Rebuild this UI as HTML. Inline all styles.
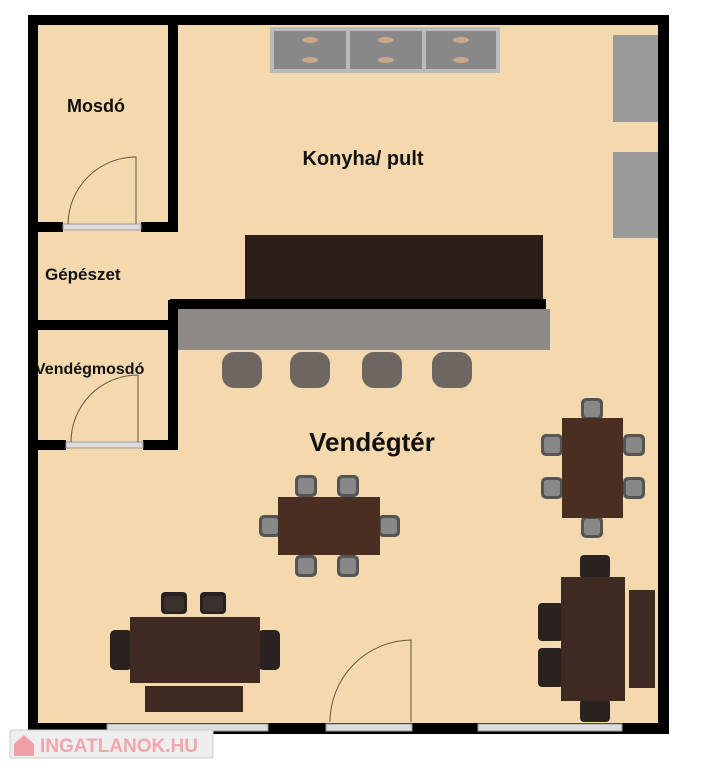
<!DOCTYPE html><html><head><style>body{margin:0;background:#fff}svg{display:block}text{font-family:"Liberation Sans",sans-serif;font-weight:bold;fill:#111}</style></head><body>
<svg width="708" height="768" viewBox="0 0 708 768">
<defs>
<g id="ch"><rect x="0" y="0" width="22" height="22" rx="5" fill="#555"/><rect x="3" y="3" width="16" height="16" rx="3" fill="#888"/></g>
<g id="dc"><rect x="0" y="0" width="26" height="22" rx="4" fill="#2a2220"/><rect x="3" y="4" width="20" height="16" rx="3" fill="#3a302c"/></g>
</defs>
<rect x="28" y="15" width="641" height="719" fill="#000"/>
<rect x="38" y="25" width="620" height="698" fill="#f3d9ad"/>
<rect x="270" y="27" width="230" height="46" fill="#bbb"/>
<rect x="274" y="31" width="72" height="38" fill="#888"/><rect x="350" y="31" width="72" height="38" fill="#888"/><rect x="426" y="31" width="70" height="38" fill="#888"/>
<g fill="#c9a88a"><ellipse cx="310" cy="40" rx="8" ry="3"/><ellipse cx="310" cy="60" rx="8" ry="3"/><ellipse cx="386" cy="40" rx="8" ry="3"/><ellipse cx="386" cy="60" rx="8" ry="3"/><ellipse cx="461" cy="40" rx="8" ry="3"/><ellipse cx="461" cy="60" rx="8" ry="3"/></g>
<rect x="613" y="35" width="45" height="87" fill="#9a9a9a"/><rect x="613" y="152" width="45" height="86" fill="#9a9a9a"/>
<rect x="168" y="25" width="10" height="207" fill="#000"/>
<rect x="38" y="222" width="25" height="10" fill="#000"/><rect x="141" y="222" width="37" height="10" fill="#000"/>
<rect x="63" y="224" width="78" height="6" fill="#ddd" stroke="#999"/>
<rect x="38" y="320" width="140" height="10" fill="#000"/>
<rect x="168" y="300" width="10" height="150" fill="#000"/>
<rect x="38" y="440" width="28" height="10" fill="#000"/><rect x="143" y="440" width="35" height="10" fill="#000"/>
<rect x="66" y="442" width="77" height="6" fill="#ddd" stroke="#999"/>
<path d="M68 224 A68 68 0 0 1 136 157 L136 224" fill="none" stroke="#6b5540" stroke-width="1"/>
<path d="M71 442 A67 67 0 0 1 138 375 L138 442" fill="none" stroke="#6b5540" stroke-width="1"/>
<rect x="245" y="235" width="298" height="66" fill="#2c1f1b"/>
<rect x="170" y="299" width="376" height="10" fill="#000"/>
<rect x="178" y="309" width="372" height="41" fill="#8d8a85"/>
<g fill="#6e6660"><rect x="222" y="352" width="40" height="36" rx="12"/><rect x="290" y="352" width="40" height="36" rx="12"/><rect x="362" y="352" width="40" height="36" rx="12"/><rect x="432" y="352" width="40" height="36" rx="12"/></g>
<rect x="107" y="724" width="161" height="7" fill="#ddd" stroke="#999"/>
<rect x="326" y="724" width="86" height="7" fill="#ddd" stroke="#999"/>
<rect x="478" y="724" width="144" height="7" fill="#ddd" stroke="#999"/>
<path d="M330 722 A82 82 0 0 1 411 640 L411 722" fill="none" stroke="#6b5540" stroke-width="1"/>
<use href="#ch" x="295" y="475"/><use href="#ch" x="337" y="475"/><use href="#ch" x="295" y="555"/><use href="#ch" x="337" y="555"/>
<use href="#ch" x="259" y="515"/><use href="#ch" x="378" y="515"/>
<rect x="278" y="497" width="102" height="58" fill="#4a2e22"/>
<use href="#ch" x="541" y="434"/><use href="#ch" x="541" y="477"/><use href="#ch" x="623" y="434"/><use href="#ch" x="623" y="477"/>
<use href="#ch" x="581" y="398"/><use href="#ch" x="581" y="516"/>
<rect x="562" y="418" width="61" height="100" fill="#4a2e22"/>
<use href="#dc" x="161" y="592"/><use href="#dc" x="200" y="592"/>
<rect x="110" y="630" width="22" height="40" rx="5" fill="#2a2220"/><rect x="258" y="630" width="22" height="40" rx="5" fill="#2a2220"/>
<rect x="130" y="617" width="130" height="66" fill="#3e2a22"/>
<rect x="145" y="686" width="98" height="26" fill="#3e2a22"/>
<rect x="580" y="555" width="30" height="24" rx="4" fill="#2a2220"/><rect x="580" y="699" width="30" height="23" rx="4" fill="#2a2220"/>
<rect x="538" y="603" width="25" height="38" rx="4" fill="#2a2220"/><rect x="538" y="648" width="25" height="39" rx="4" fill="#2a2220"/>
<rect x="561" y="577" width="64" height="124" fill="#3e2a22"/>
<rect x="629" y="590" width="26" height="98" fill="#3e2a22"/>
<text x="67" y="112" font-size="18">Mosdó</text>
<text x="363" y="165" font-size="20" text-anchor="middle">Konyha/ pult</text>
<text x="45" y="280" font-size="17">Gépészet</text>
<text x="35" y="374" font-size="16">Vendégmosdó</text>
<text x="372" y="451" font-size="26" text-anchor="middle">Vendégtér</text>
<rect x="10" y="730" width="203" height="28" fill="#eee" stroke="#ccc"/>
<path d="M14 744 L24 735 L34 744 L34 756 L14 756Z" fill="#f0a0a8"/>
<text x="40" y="752" font-size="19" style="fill:#f2a6ad">INGATLANOK.HU</text>
</svg></body></html>
